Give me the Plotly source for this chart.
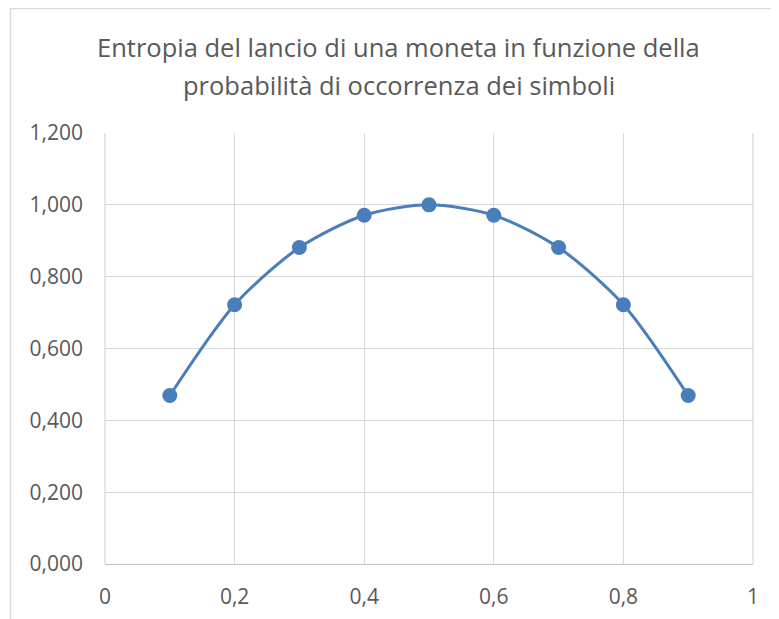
import plotly.graph_objects as go

p = [0.1, 0.2, 0.3, 0.4, 0.5, 0.6, 0.7, 0.8, 0.9]
entropy = [0.469, 0.722, 0.881, 0.971, 1.000, 0.971, 0.881, 0.722, 0.469]
x_ticks = [0, 0.2, 0.4, 0.6, 0.8, 1]
x_labels = ["0", "0,2", "0,4", "0,6", "0,8", "1"]
y_ticks = [0, 0.2, 0.4, 0.6, 0.8, 1.0, 1.2]
y_labels = ["0,000", "0,200", "0,400", "0,600", "0,800", "1,000", "1,200"]
title_lines = ["Entropia del lancio di una moneta in funzione della",
               "probabilità di occorrenza dei simboli"]

# page body has an 8px margin; the figure is sized to compensate
W, H = 771, 611
L, R, T, B = 97, 26, 125, 55
PW, PH = W - L - R, H - T - B

blue = "#4a7ebb"
grid = "#d9d9d9"
fig = go.Figure()
fig.add_trace(go.Scatter(
    x=p, y=entropy, mode="lines+markers",
    line=dict(color=blue, width=3, shape="spline", smoothing=0.8),
    marker=dict(color=blue, size=15),
    showlegend=False, hoverinfo="skip"))

title_x = (390.5 - L) / PW
for line_text, ypx in zip(title_lines, [39, 77]):
    fig.add_annotation(text=line_text, xref="paper", yref="paper",
                       x=title_x, y=1 + (T - ypx) / PH, xanchor="center", yanchor="middle",
                       showarrow=False,
                       font=dict(family="Open Sans", size=25.5, color="#595959"))

fig.update_layout(
    width=W, height=H,
    margin=dict(l=L, r=R, t=T, b=B, autoexpand=False),
    paper_bgcolor="white", plot_bgcolor="white",
    font=dict(family="Open Sans", color="#595959"),
    xaxis=dict(range=[0, 1], tickvals=x_ticks, ticktext=x_labels,
               showgrid=True, gridcolor=grid, gridwidth=1.3,
               showline=True, linecolor="#bfbfbf", linewidth=1.3, mirror=False,
               zeroline=False, ticks="", tickfont=dict(size=21, color="#595959"),
               ticklabelstandoff=14, automargin=False),
    yaxis=dict(range=[0, 1.2], tickvals=y_ticks, ticktext=y_labels,
               showgrid=True, gridcolor=grid, gridwidth=1.3,
               showline=False, zeroline=False, ticks="",
               tickfont=dict(size=21, color="#595959"),
               ticklabelstandoff=21, automargin=False),
    shapes=[
        dict(type="line", xref="paper", yref="paper", x0=1, x1=1, y0=0, y1=1,
             line=dict(color=grid, width=1.3)),
        dict(type="line", xref="paper", yref="paper", x0=0, x1=0, y0=0, y1=1,
             line=dict(color=grid, width=1.3), layer="below"),
        # outer chart border (top and left edges visible in the cropped reference)
        dict(type="line", xref="paper", yref="paper",
             x0=-(L - 2) / PW, x1=1 + R / PW, y0=1 + (T - 0.5) / PH, y1=1 + (T - 0.5) / PH,
             line=dict(color=grid, width=1.5)),
        dict(type="line", xref="paper", yref="paper",
             x0=-(L - 2.5) / PW, x1=-(L - 2.5) / PW, y0=-B / PH, y1=1 + T / PH,
             line=dict(color=grid, width=1.5)),
    ],
)
fig.write_html("out.html")
